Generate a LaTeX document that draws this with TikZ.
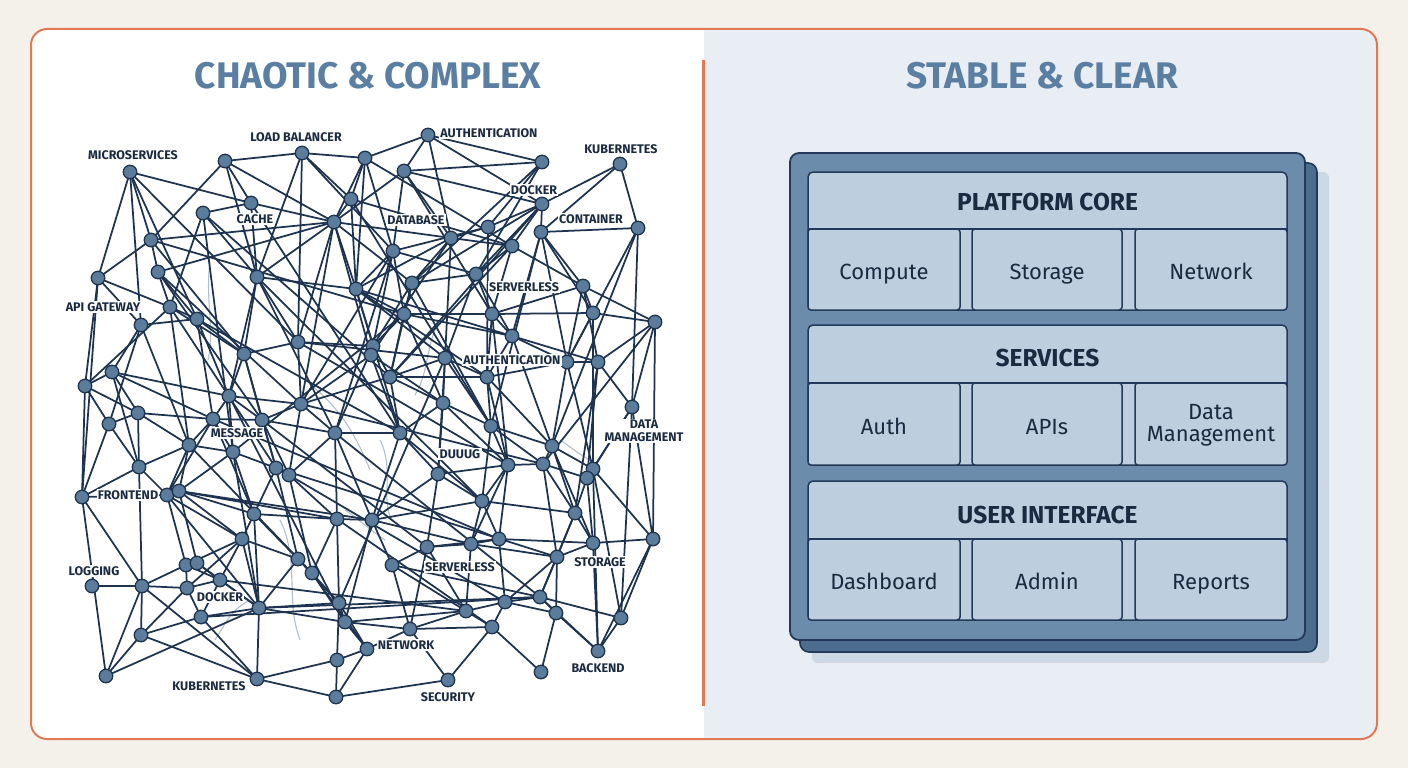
\documentclass[tikz,border=0pt]{standalone}
\usepackage{fontspec}
\setmainfont{Fira Sans}
\definecolor{pagebg}{HTML}{F4F0EA}
\definecolor{rightbg}{HTML}{E9EEF4}
\definecolor{frame}{HTML}{E07A52}
\definecolor{titlec}{HTML}{5B7FA2}
\definecolor{netc}{HTML}{1D3350}
\definecolor{dotc}{HTML}{5C7C9C}
\definecolor{labc}{HTML}{1A2A40}
\definecolor{faintc}{HTML}{9DB0C4}
\definecolor{shadowc}{HTML}{CCD8E4}
\definecolor{backc}{HTML}{4D6D8E}
\definecolor{mainc}{HTML}{6B8CAA}
\definecolor{edgec}{HTML}{22395A}
\definecolor{secc}{HTML}{BDCEDF}
\tikzset{
  net/.style={draw=netc, line width=1.75pt},
  faint/.style={draw=faintc, line width=1.1pt, opacity=0.8},
  dot/.style={circle, fill=dotc, draw=netc, line width=1.3pt, minimum size=13.5pt, inner sep=0pt},
  lbl/.style={font=\bfseries\fontsize{12.5}{13.5}\selectfont, text=labc, fill=white, inner sep=1.2pt, align=center},
  ttl/.style={font=\bfseries\fontsize{37}{40}\selectfont, text=titlec},
  sec/.style={draw=edgec, fill=secc, line width=1.5pt, rounded corners=5pt, minimum width=479pt, inner sep=0pt},
  subbox/.style={draw=edgec, fill=secc, line width=1.5pt, rounded corners=3pt, minimum height=81pt, inner sep=0pt},
  subtxt/.style={font=\fontsize{22}{25}\selectfont, text=labc, text height=15pt, text depth=0pt, yshift=-2.5pt, inner sep=0pt},
  hdr/.style={font=\bfseries\fontsize{24.5}{27}\selectfont, text=labc, text height=17pt, text depth=0pt, inner sep=0pt},
}
\begin{document}
\begin{tikzpicture}[x=1pt,y=-1pt]
\useasboundingbox (0,0) rectangle (1408,768);
\fill[pagebg] (0,0) rectangle (1408,768);
\begin{scope}
  \clip[rounded corners=16pt] (31,29) rectangle (1377,739);
  \fill[white] (31,29) rectangle (704,739);
  \fill[rightbg] (704,29) rectangle (1377,739);
\end{scope}
\draw[frame, line width=2pt, rounded corners=16pt] (31,29) rectangle (1377,739);
\coordinate (dtop) at (703.5,60);
\coordinate (dbot) at (703.5,706);
\draw[frame, line width=2.4pt] (dtop) -- (dbot);

\node[ttl] (t1) at (368,76) {CHAOTIC \& COMPLEX};
\node[ttl] (t2) at (1042,76) {STABLE \& CLEAR};

% ---------------- chaotic network ----------------
\foreach \i/\x/\y in {
1/130/172, 2/225/161, 3/302/153, 4/365/158, 5/428/135, 6/404/171, 7/542/162, 8/620/164,
9/251/203, 10/203/213, 11/334/222, 12/351/199, 13/151/240, 14/451/238, 15/488/227, 16/512/246,
17/542/204, 18/541/232, 19/638/228, 20/98/278, 21/158/272, 22/257/277, 23/356/289, 24/393/251,
25/476/274, 26/412/283, 27/170/307, 28/197/319, 29/141/325, 30/244/354, 31/298/342, 32/373/346,
33/371/355, 34/404/314, 35/492/314, 36/512/336, 37/583/286, 38/593/313, 39/655/322, 40/112/372,
41/85/386, 42/229/396, 43/301/404, 44/390/377, 45/445/358, 46/487/377, 47/567/362, 48/598/362,
49/443/403, 50/632/407, 51/109/424, 52/138/413, 53/213/419, 54/262/420, 55/335/433, 56/400/433,
57/189/445, 58/233/452, 59/491/426, 60/552/446, 61/543/464, 62/593/469, 63/587/478, 64/508/465,
65/438/474, 66/139/467, 67/276/468, 68/289/475, 69/82/497, 70/167/495, 71/179/491, 72/254/514,
73/337/519, 74/372/520, 75/482/501, 76/575/513, 77/242/539, 78/298/559, 79/312/573, 80/186/565,
81/197/563, 82/220/580, 83/187/588, 84/142/586, 85/92/586, 86/259/608, 87/339/603, 88/345/622,
89/201/617, 90/141/635, 91/367/649, 92/337/660, 93/106/676, 94/257/679, 95/336/697, 96/471/544,
97/499/539, 98/427/547, 99/593/543, 100/653/539, 101/557/557, 102/392/565, 103/540/597, 104/505/602,
105/466/611, 106/556/613, 107/621/618, 108/410/629, 109/492/627, 110/598/651, 111/541/672, 112/448/680}
  \coordinate (n\i) at (\x,\y);

% faint sketch strokes
\draw[faint] (210,262) .. controls (205,300) and (215,330) .. (208,360);
\draw[faint] (243,232) .. controls (255,250) and (250,265) .. (262,280);
\draw[faint] (305,380) .. controls (330,400) and (350,420) .. (370,470);
\draw[faint] (380,440) .. controls (395,470) and (380,500) .. (392,520);
\draw[faint] (280,520) .. controls (300,560) and (285,600) .. (300,640);
\draw[faint] (560,440) .. controls (575,450) and (580,455) .. (590,460);
\draw[faint] (250,600) .. controls (230,610) and (225,625) .. (215,640);
\draw[faint] (440,320) .. controls (425,345) and (430,370) .. (415,395);
\draw[faint] (345,510) .. controls (360,520) and (370,530) .. (385,540);

\foreach \a/\b in {
1/9, 1/13, 1/20, 1/28, 1/29, 1/31, 2/3, 2/13, 2/9, 2/22, 3/4, 3/31, 3/22, 3/12, 3/24,
4/5, 4/11, 4/12, 4/24, 4/16, 4/23, 5/6, 5/7, 5/17, 5/14, 6/7, 6/11, 6/14, 6/17, 6/24, 6/35,
7/15, 7/25, 8/17, 8/19, 8/18, 9/10, 9/22, 9/11, 10/27, 10/22, 10/44,
11/13, 11/21, 11/22, 11/23, 11/31, 11/33, 11/14, 11/43, 11/12, 12/23, 12/16,
13/20, 13/21, 13/30, 14/16, 14/15, 14/23, 14/26, 14/45, 14/33, 15/17, 15/24, 15/46,
16/25, 16/17, 16/35, 16/37, 17/18, 17/25, 17/26, 17/44, 18/19, 18/36, 18/37, 18/38, 18/47, 18/59,
19/50, 19/47, 20/27, 20/41, 20/29, 20/69, 21/27, 21/28, 21/43, 22/30, 22/31, 22/23, 22/42, 22/55,
23/24, 23/32, 23/34, 23/45, 23/46, 23/56, 24/25, 24/34, 24/33, 24/55, 25/26, 25/35, 25/36, 25/45,
26/34, 26/32, 26/44, 27/28, 27/41, 27/30, 27/57, 28/29, 28/30, 28/42, 28/53, 28/56, 29/40, 29/51,
30/31, 30/42, 30/54, 30/67, 31/32, 31/43, 31/45, 32/33, 32/34, 32/44, 32/55, 33/43, 33/56, 33/49,
34/35, 34/36, 34/49, 34/44, 34/58, 35/37, 35/36, 35/46, 35/38, 36/46, 36/47, 36/48, 36/60,
37/38, 37/39, 37/48, 38/39, 38/47, 38/62, 39/50, 39/48, 39/61, 40/41, 40/52, 40/42, 40/66,
41/51, 41/69, 42/43, 42/53, 42/54, 42/58, 43/44, 43/55, 43/54, 43/68, 44/45, 44/46, 44/49, 44/56,
45/46, 45/49, 45/59, 45/65, 46/47, 46/59, 46/60, 46/64, 47/48, 47/60, 47/62, 48/50, 48/63, 48/76,
49/56, 49/65, 49/59, 49/64, 50/62, 50/63, 50/100, 51/52, 51/66, 51/69, 52/53, 52/57, 52/66,
53/54, 53/57, 53/58, 53/70, 53/72, 54/55, 54/67, 54/68, 55/56, 55/73, 55/74, 55/68,
56/65, 56/74, 56/75, 57/58, 57/70, 57/71, 57/66, 58/67, 58/71, 58/72, 59/60, 59/64, 59/75, 59/61,
60/61, 60/62, 60/76, 60/99, 61/63, 61/64, 61/76, 61/101, 62/63, 62/100, 62/107, 63/99, 63/76,
64/65, 64/75, 64/97, 64/96, 65/74, 65/75, 65/98, 66/69, 66/70, 67/68, 67/72, 67/78, 68/73, 68/79,
69/70, 69/84, 70/71, 70/77, 70/80, 71/72, 71/73, 71/74, 71/77, 71/81, 72/73, 72/77, 72/78, 72/86,
73/74, 73/87, 73/79, 74/75, 74/102, 74/96, 74/88, 75/76, 75/96, 75/97, 76/99, 76/101, 76/103,
77/78, 77/80, 77/82, 77/83, 77/86, 78/79, 78/86, 78/87, 79/87, 79/88, 79/91, 80/81, 80/82, 80/83, 80/84,
81/82, 81/86, 82/83, 82/86, 82/89, 83/84, 83/89, 83/90, 84/85, 84/90, 84/93, 86/87, 86/89, 86/94, 86/88, 86/103,
87/88, 87/91, 87/92, 88/91, 88/108, 88/105, 89/90, 89/94, 90/93, 90/94, 91/92, 91/95, 91/108, 92/94, 92/95,
93/86, 94/95, 95/112, 96/97, 96/98, 96/105, 96/101, 97/98, 97/104, 97/99, 98/102, 98/108, 98/105,
99/100, 99/101, 99/110, 100/107, 100/110, 101/103, 101/106, 101/104, 102/108, 102/105, 102/103,
103/104, 103/106, 103/107, 103/110, 104/105, 104/109, 104/106, 105/108, 105/109, 106/110, 106/111,
107/110, 108/112, 108/109, 109/111, 109/112,
22/75, 42/88, 53/97, 24/43, 12/59, 16/44, 9/56, 10/58, 27/67, 31/64, 43/61, 45/87, 55/103, 67/101,
73/109, 68/104, 58/86, 54/98, 82/105, 89/103, 84/94, 21/54, 13/34, 29/57, 40/53, 57/79, 70/86, 62/110,
37/47, 26/59, 35/64, 11/26, 23/36, 2/11, 7/26, 19/60, 39/100, 50/107, 69/93, 66/84, 41/52}
  \draw[net] (n\a) -- (n\b);

\foreach \i in {1,...,112}
  \node[dot] (d\i) at (n\i) {};

% labels
\node[lbl] (l1) at (133,155) {MICROSERVICES};
\node[lbl] (l2) at (296,137) {LOAD BALANCER};
\node[lbl] (l3) at (489,133) {AUTHENTICATION};
\node[lbl] (l4) at (621,149) {KUBERNETES};
\node[lbl] (l5) at (534,190) {DOCKER};
\node[lbl] (l6) at (255,219) {CACHE};
\node[lbl] (l7) at (416,220) {DATABASE};
\node[lbl] (l8) at (591,219) {CONTAINER};
\node[lbl] (l9) at (103,307) {API GATEWAY};
\node[lbl] (l10) at (524,287) {SERVERLESS};
\node[lbl] (l11) at (512,360) {AUTHENTICATION};
\node[lbl] (l12) at (644,431) {DATA\\MANAGEMENT};
\node[lbl] (l13) at (237,433) {MESSAGE};
\node[lbl] (l14) at (460,454) {DUUUG};
\node[lbl] (l15) at (128,495) {FRONTEND};
\node[lbl] (l16) at (94,571) {LOGGING};
\node[lbl] (l17) at (460,567) {SERVERLESS};
\node[lbl] (l18) at (600,562) {STORAGE};
\node[lbl] (l19) at (220,597) {DOCKER};
\node[lbl] (l20) at (406,645) {NETWORK};
\node[lbl] (l21) at (598,668) {BACKEND};
\node[lbl] (l22) at (209,686) {KUBERNETES};
\node[lbl] (l23) at (448,697) {SECURITY};

% ---------------- stable stack ----------------
\fill[shadowc, rounded corners=6pt] (812,172) rectangle (1329,663);
\filldraw[fill=backc, draw=edgec, line width=1.6pt, rounded corners=9pt] (800,163) rectangle (1317,652);
\node[draw=edgec, fill=mainc, line width=1.8pt, rounded corners=9pt, minimum width=515pt, minimum height=487pt, inner sep=0pt] (main) at (1047.5,396.5) {};

% section 1
\node[sec, minimum height=138pt] (s1) at (1047.5,241) {};
\draw[edgec, line width=1.5pt] (808,229) -- (1287,229);
\node[hdr] (h1) at (1047.5,202) {PLATFORM CORE};
\node[subbox, minimum width=152pt, label={[subtxt]center:Compute}] (compute) at (884,269.5) {};
\node[subbox, minimum width=150pt, label={[subtxt]center:Storage}] (storage) at (1047,269.5) {};
\node[subbox, minimum width=152pt, label={[subtxt]center:Network}] (network) at (1211,269.5) {};

% section 2
\node[sec, minimum height=140pt] (s2) at (1047.5,395) {};
\draw[edgec, line width=1.5pt] (808,383) -- (1287,383);
\node[hdr] (h2) at (1047.5,358) {SERVICES};
\node[subbox, minimum width=152pt, minimum height=82pt, label={[subtxt]center:Auth}] (auth) at (884,424) {};
\node[subbox, minimum width=150pt, minimum height=82pt, label={[subtxt]center:APIs}] (apis) at (1047,424) {};
\node[subbox, minimum width=152pt, minimum height=82pt] (dm) at (1211,424) {};
\node[font=\fontsize{22}{25}\selectfont, text=labc, align=center, inner sep=0pt] (dmt) at (1211,425) {Data\\[-3pt]Management};

% section 3
\node[sec, minimum height=139pt] (s3) at (1047.5,550.5) {};
\draw[edgec, line width=1.5pt] (808,539) -- (1287,539);
\node[hdr] (h3) at (1047.5,515) {USER INTERFACE};
\node[subbox, minimum width=152pt, label={[subtxt]center:Dashboard}] (dash) at (884,579.5) {};
\node[subbox, minimum width=150pt, label={[subtxt]center:Admin}] (admin) at (1047,579.5) {};
\node[subbox, minimum width=152pt, label={[subtxt]center:Reports}] (reports) at (1211,579.5) {};
\end{tikzpicture}
\end{document}
